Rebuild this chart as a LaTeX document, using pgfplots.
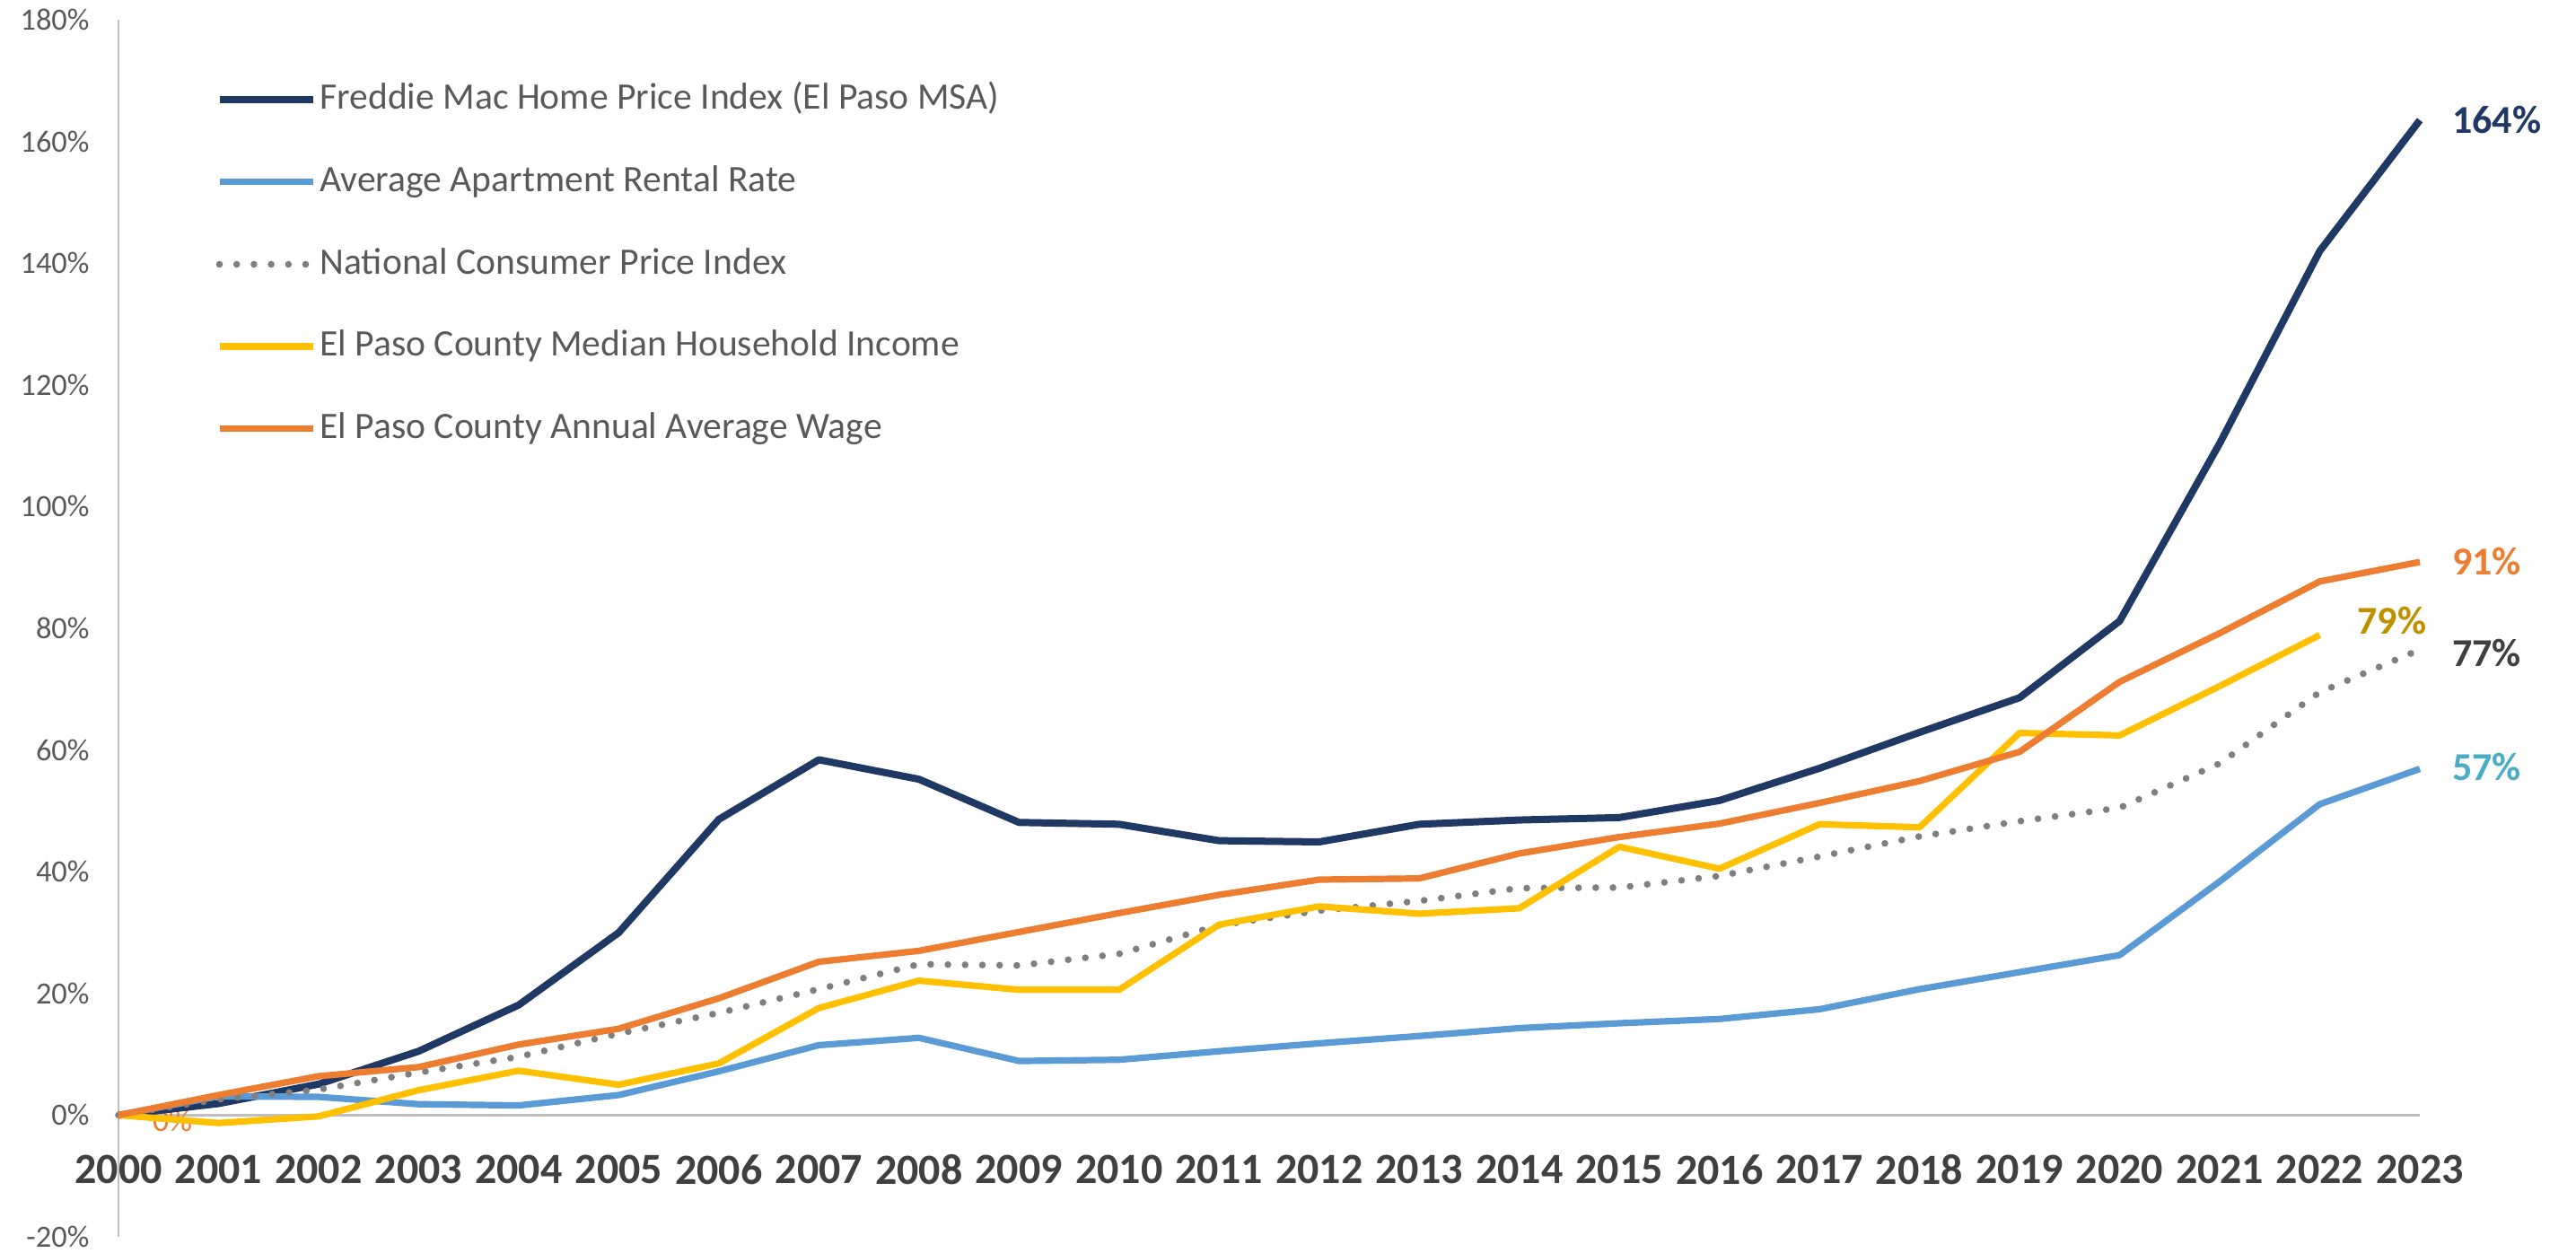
\documentclass[border=0pt]{standalone}
\usepackage{fontspec}
\setmainfont{Carlito}
\usepackage{pgfplots}
\pgfplotsset{compat=1.18}
\definecolor{navy}{HTML}{1F3864}
\definecolor{ltblue}{HTML}{5B9BD5}
\definecolor{cpigray}{HTML}{7F7F7F}
\definecolor{gold}{HTML}{FFC000}
\definecolor{orng}{HTML}{ED7D31}
\definecolor{axgray}{HTML}{BFBFBF}
\definecolor{txtgray}{HTML}{595959}
\definecolor{yeargray}{HTML}{404040}
\definecolor{goldtxt}{HTML}{BF9000}
\definecolor{tealtxt}{HTML}{4BACC6}
\begin{document}
\begin{tikzpicture}
\path[use as bounding box] (-33pt,-4.25pt) rectangle (684.5pt,344.5pt);
\begin{axis}[
  at={(0pt,0pt)}, anchor=south west,
  scale only axis, width=641pt, height=339pt,
  xmin=2000, xmax=2023, ymin=-20, ymax=180,
  axis line style={draw=none},
  major tick length=0pt,
  xtick={2000,2001,...,2023},
  xticklabels={2000,2001,2002,2003,2004,2005,2006,2007,2008,2009,2010,2011,2012,2013,2014,2015,2016,2017,2018,2019,2020,2021,2022,2023},
  ytick={-20,0,20,40,60,80,100,120,140,160,180},
  yticklabels={-20\%,0\%,20\%,40\%,60\%,80\%,100\%,120\%,140\%,160\%,180\%},
  yticklabel style={font=\fontsize{8.6}{9}\selectfont, text=txtgray, xshift=-4.6pt},
  xticklabel style={font=\fontsize{12}{14}\selectfont\bfseries, text=yeargray, anchor=center, yshift=18.75pt},
  clip=false,
  legend cell align=left,
  legend image code/.code={\draw[#1] (0pt,0pt) -- (26pt,0pt);},
  legend style={at={(rel axis cs:0.042,0.952)}, anchor=north west, draw=none, fill=none,
    inner sep=0pt, font=\fontsize{10.4}{12}\selectfont, text=txtgray, row sep=11.2pt,
    nodes={text height=7.5pt, text depth=2.2pt, inner sep=1pt},
    /tikz/every even column/.append style={column sep=2pt}},
]
\draw[axgray, line width=0.6pt] (axis cs:2000,-20) -- (axis cs:2000,180);
\draw[axgray, line width=0.8pt] (axis cs:2000,0) -- (axis cs:2023,0);
\node[text=orng, font=\fontsize{9}{10}\selectfont, anchor=center] at (axis cs:2000.54,-0.9) {0\%};

\addplot[navy, line width=2pt, line join=round] coordinates {
(2000,0) (2001,1.9) (2002,5.1) (2003,10.5) (2004,18.1) (2005,30) (2006,48.6) (2007,58.4)
(2008,55.2) (2009,48.1) (2010,47.8) (2011,45.1) (2012,44.9) (2013,47.8) (2014,48.5)
(2015,48.9) (2016,51.7) (2017,57.0) (2018,62.9) (2019,68.6) (2020,81.2) (2021,110.4)
(2022,142.0) (2023,163.5)};
\addlegendentry{Freddie Mac Home Price Index (El Paso MSA)}

\addplot[ltblue, line width=1.8pt, line join=round] coordinates {
(2000,0) (2001,3.1) (2002,3.0) (2003,1.8) (2004,1.6) (2005,3.3) (2006,7.2) (2007,11.5)
(2008,12.7) (2009,8.9) (2010,9.1) (2011,10.5) (2012,11.8) (2013,13.0) (2014,14.3)
(2015,15.1) (2016,15.8) (2017,17.4) (2018,20.7) (2019,23.5) (2020,26.3) (2021,38.4)
(2022,51.1) (2023,56.9)};
\addlegendentry{Average Apartment Rental Rate}

\addplot[cpigray, line width=1.9pt, line cap=round, dash pattern=on 0pt off 4.8pt] coordinates {
(2000,0) (2001,2.6) (2002,4.2) (2003,7.0) (2004,9.6) (2005,13.4) (2006,16.8) (2007,20.7)
(2008,24.8) (2009,24.6) (2010,26.5) (2011,31.2) (2012,33.6) (2013,35.2) (2014,37.3)
(2015,37.4) (2016,39.3) (2017,42.5) (2018,45.8) (2019,48.3) (2020,50.5) (2021,57.8)
(2022,69.5) (2023,76.5)};
\addlegendentry{National Consumer Price Index}

\addplot[gold, line width=1.8pt, line join=round] coordinates {
(2000,0) (2001,-1.3) (2002,-0.2) (2003,4.1) (2004,7.3) (2005,5.0) (2006,8.5) (2007,17.6)
(2008,22.1) (2009,20.6) (2010,20.6) (2011,31.3) (2012,34.3) (2013,33.1) (2014,34.0)
(2015,44.1) (2016,40.5) (2017,47.8) (2018,47.3) (2019,62.8) (2020,62.4) (2021,70.5)
(2022,78.9)};
\addlegendentry{El Paso County Median Household Income}

\addplot[orng, line width=1.8pt, line join=round] coordinates {
(2000,0) (2001,3.3) (2002,6.4) (2003,7.9) (2004,11.6) (2005,14.2) (2006,19.2) (2007,25.2)
(2008,27.0) (2009,30.1) (2010,33.2) (2011,36.2) (2012,38.7) (2013,38.9) (2014,43.0)
(2015,45.7) (2016,47.9) (2017,51.3) (2018,54.9) (2019,59.7) (2020,71.2) (2021,79.2)
(2022,87.7) (2023,90.9)};
\addlegendentry{El Paso County Annual Average Wage}

\node[anchor=west, text=navy, font=\fontsize{11}{12}\selectfont\bfseries, xshift=5.5pt] at (axis cs:2023,163.5) {164\%};
\node[anchor=west, text=orng, font=\fontsize{11}{12}\selectfont\bfseries, xshift=5.5pt] at (axis cs:2023,91) {91\%};
\node[anchor=west, text=yeargray, font=\fontsize{11}{12}\selectfont\bfseries, xshift=5.5pt] at (axis cs:2023,76) {77\%};
\node[anchor=west, text=tealtxt, font=\fontsize{11}{12}\selectfont\bfseries, xshift=5.5pt] at (axis cs:2023,57.2) {57\%};
\node[anchor=center, text=goldtxt, font=\fontsize{11}{12}\selectfont\bfseries] at (axis cs:2022.72,81.3) {79\%};
\end{axis}
\end{tikzpicture}
\end{document}
